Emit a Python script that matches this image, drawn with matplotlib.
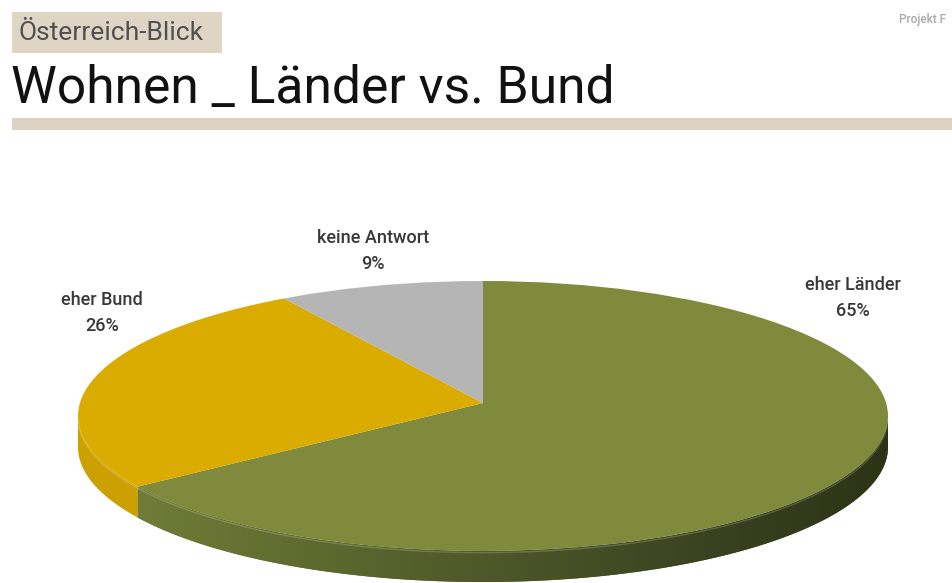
import numpy as np
import matplotlib
matplotlib.use("Agg")
import matplotlib.pyplot as plt
from matplotlib.patches import Polygon, Rectangle, Circle
from matplotlib.colors import LinearSegmentedColormap

# ---- data ----
categories = ["eher Länder", "eher Bund", "keine Antwort"]
values = [65, 26, 9]
top_colors = ["#7F8A3C", "#DAAB00", "#B5B5B5"]
side_colors = ["#5A6430", "#CCA000", "#9A9A9A"]
title = "Wohnen _ Länder vs. Bund"
tag = "Österreich-Blick"
corner = "Projekt F"

font = "Roboto"
W, H = 952, 583
fig = plt.figure(figsize=(W / 100, H / 100), dpi=100)
fig.patch.set_facecolor("white")

# header
fig.add_artist(Rectangle((12 / W, 1 - 53 / H), 210 / W, 41 / H, transform=fig.transFigure,
                         facecolor="#DED5C4", edgecolor="none"))
fig.text(19 / W, 1 - 33 / H, tag, fontsize=19, color="#505050", family=font, va="center", ha="left")
fig.text(11 / W, 1 - 89 / H, title, fontsize=37.2, color="#111111", family=font, va="center", ha="left")
fig.add_artist(Rectangle((12 / W, 1 - 130 / H), 1, 12 / H, transform=fig.transFigure,
                         facecolor="#DDD3C2", edgecolor="none"))
fig.text(899 / W, 1 - 20 / H, corner, fontsize=8.5, color="#A8A8A8", family=font, weight="medium",
         va="center", ha="left")

# pie geometry (pixels): ellipse centre, radii, depth, apex lift (perspective)
cx, cy, rx, ry, depth, lift = 483, 416, 405, 135, 31, 13
ax = fig.add_axes([0, 0, 1, 1])
ax.set_facecolor("none")
h = lift / ry
wedges, _ = ax.pie(values, colors=top_colors, startangle=90, counterclock=False,
                   wedgeprops=dict(linewidth=0), radius=1.6, center=(0, h))
ax.set_aspect("auto")
ax.set_xlim(-cx / rx, (W - cx) / rx)
ax.set_ylim(-(H - cy) / ry, cy / ry)
ax.axis("off")
clip = Circle((0, 0), 1, transform=ax.transData)
for w in wedges:
    w.set_zorder(5)
    w.set_clip_on(True)
    w.set_clip_path(clip)

d = depth / ry
green_cmap = LinearSegmentedColormap.from_list(
    "g", [(0, "#76823A"), (0.45, "#525C2A"), (0.8, "#394020"), (1, "#2D3315")])


def rim_angle(theta):
    """angle on rim where the ray from the apex at theta meets the unit circle"""
    t = np.radians(theta)
    s = -h * np.sin(t) + np.sqrt((h * np.sin(t)) ** 2 - h * h + 1)
    return np.degrees(np.arctan2(h + s * np.sin(t), s * np.cos(t)))


for i, (w, sc) in enumerate(zip(wedges, side_colors)):
    t1, t2 = rim_angle(w.theta1) % 360, rim_angle(w.theta2) % 360
    if t2 <= t1:
        t2 += 360
    for base in (180, 540):
        a, b = max(t1, base), min(t2, base + 180)
        if b <= a:
            continue
        t = np.radians(np.linspace(a, b, 200))
        top = np.column_stack([np.cos(t), np.sin(t)])
        bot = np.column_stack([np.cos(t[::-1]), np.sin(t[::-1]) - d])
        poly = Polygon(np.vstack([top, bot]), closed=True, facecolor=sc, edgecolor="none", zorder=2)
        ax.add_patch(poly)
        if i == 0:
            grad = np.linspace(0, 1, 512).reshape(1, -1)
            im = ax.imshow(grad, cmap=green_cmap, extent=(-1, 1, -1 - d, 0.2), aspect="auto",
                           zorder=3, interpolation="bilinear")
            im.set_clip_path(poly)
        ax.plot(np.cos(t), np.sin(t) - 0.012, color="white", alpha=0.18, lw=1, zorder=4)

# labels
lab_kw = dict(fontsize=13, color="#383838", family=font, weight="medium",
              ha="center", va="center", linespacing=1.55)
label_px = [(853, 298), (102, 313), (373, 251)]
for (name, v, (lx, ly)) in zip(categories, values, label_px):
    fig.text(lx / W, 1 - ly / H, f"{name}\n{v}%", **lab_kw)

fig.savefig("out.png", dpi=100)
